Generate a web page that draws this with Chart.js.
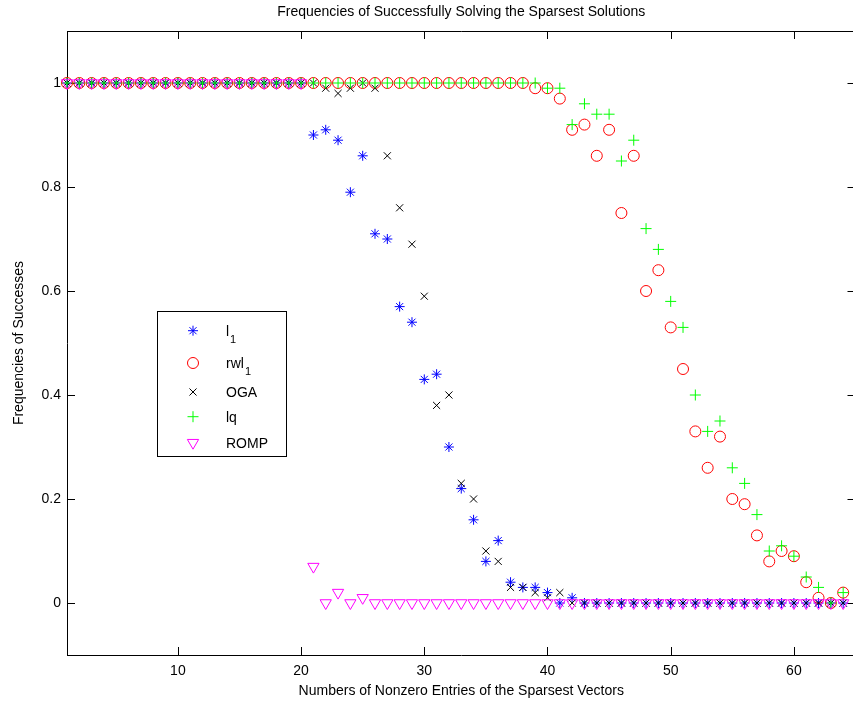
<!DOCTYPE html>
<html>
<head>
<meta charset="utf-8">
<script src="https://cdn.jsdelivr.net/npm/chart.js@4.4.1/dist/chart.umd.min.js"></script>
<style>
html, body { margin: 0; padding: 0; overflow: hidden; background: #fff; }
#wrap { width: 853px; height: 705px; overflow: hidden; position: relative; }
#chart { position: absolute; left: 0; top: 0; }
</style>
</head>
<body>
<div id="wrap"><canvas id="chart" width="863" height="705"></canvas></div>
<script>
// number of nonzero entries (x)
const entries = [1,2,3,4,5,6,7,8,9,10,11,12,13,14,15,16,17,18,19,20,
  21,22,23,24,25,26,27,28,29,30,31,32,33,34,35,36,37,38,39,40,
  41,42,43,44,45,46,47,48,49,50,51,52,53,54,55,56,57,58,59,60,61,62,63,64];
const xTicks = [10, 20, 30, 40, 50, 60];
const yTicks = [0, 0.2, 0.4, 0.6, 0.8, 1];

const seriesNames = ['l', 'rwl', 'OGA', 'lq', 'ROMP'];
const seriesSubs = ['1', '1', '', '', ''];

const l1 = [1,1,1,1,1,1,1,1,1,1,1,1,1,1,1,1,1,1,1,1,
  0.90,0.91,0.89,0.79,0.86,0.71,0.70,0.57,0.54,0.43,0.44,0.30,0.22,0.16,0.08,0.12,0.04,0.03,0.03,0.02,
  0,0.01,0,0,0,0,0,0,0,0,0,0,0,0,0,0,0,0,0,0,0,0,0,0];
const rwl1 = [1,1,1,1,1,1,1,1,1,1,1,1,1,1,1,1,1,1,1,1,
  1,1,1,1,1,1,1,1,1,1,1,1,1,1,1,1,1,1,0.99,0.99,
  0.97,0.91,0.92,0.86,0.91,0.75,0.86,0.60,0.64,0.53,0.45,0.33,0.26,0.32,0.20,0.19,0.13,0.08,0.10,0.09,
  0.04,0.01,0,0.02];
const oga = [1,1,1,1,1,1,1,1,1,1,1,1,1,1,1,1,1,1,1,1,
  1,0.99,0.98,0.99,1,0.99,0.86,0.76,0.69,0.59,0.38,0.40,0.23,0.20,0.10,0.08,0.03,0.03,0.02,0.01,
  0.02,0,0,0,0,0,0,0,0,0,0,0,0,0,0,0,0,0,0,0,0,0,0,0];
const lq = [1,1,1,1,1,1,1,1,1,1,1,1,1,1,1,1,1,1,1,1,
  1,1,1,1,1,1,1,1,1,1,1,1,1,1,1,1,1,1,1,0.99,
  0.99,0.92,0.96,0.94,0.94,0.85,0.89,0.72,0.68,0.58,0.53,0.40,0.33,0.35,0.26,0.23,0.17,0.10,0.11,0.09,
  0.05,0.03,0,0.02];
const romp = [1,1,1,1,1,1,1,1,1,1,1,1,1,1,1,1,1,1,1,1,
  0.07,0,0.02,0,0.01,0,0,0,0,0,0,0,0,0,0,0,0,0,0,0,
  0,0,0,0,0,0,0,0,0,0,0,0,0,0,0,0,0,0,0,0,0,0,0,0];

function pts(values) {
  return entries.map((x, i) => ({ x: x, y: values[i] }));
}

Chart.defaults.font.family = '"Liberation Sans", Arial, Helvetica, sans-serif';
Chart.defaults.font.size = 14;
Chart.defaults.color = '#000';

// tick marks inside the box on all four sides, plus top/right box lines
const innerTicks = {
  id: 'innerTicks',
  beforeDatasetsDraw(chart) {
    const { ctx, chartArea: a } = chart;
    const xs = chart.scales.x, ys = chart.scales.y;
    const len = 8;
    ctx.save();
    ctx.strokeStyle = '#000';
    ctx.lineWidth = 1;
    ctx.beginPath();
    xTicks.forEach(v => {
      const px = Math.round(xs.getPixelForValue(v)) + 0.5;
      ctx.moveTo(px, a.bottom); ctx.lineTo(px, a.bottom - len);
      ctx.moveTo(px, a.top); ctx.lineTo(px, a.top + len);
    });
    yTicks.forEach(v => {
      const py = Math.round(ys.getPixelForValue(v)) + 0.5;
      ctx.moveTo(a.left, py); ctx.lineTo(a.left + len, py);
      ctx.moveTo(a.right, py); ctx.lineTo(a.right - len, py);
    });
    ctx.moveTo(a.left, Math.round(a.top) + 0.5); ctx.lineTo(a.right, Math.round(a.top) + 0.5);
    ctx.moveTo(Math.round(a.right) + 0.5, a.top); ctx.lineTo(Math.round(a.right) + 0.5, a.bottom);
    ctx.stroke();
    ctx.restore();
  }
};

// center the title over the plot area like MATLAB does
const titleOverPlot = {
  id: 'titleOverPlot',
  afterLayout(chart) {
    const t = chart.titleBlock;
    if (t) {
      t.left = chart.chartArea.left;
      t.right = chart.chartArea.right;
      t.width = t.right - t.left;
    }
  }
};

// boxed legend inside the axes
const legendRowY = [330.7, 363, 392, 416.7, 442.7];
const boxLegend = {
  id: 'boxLegend',
  afterDatasetsDraw(chart) {
    const ctx = chart.ctx;
    ctx.save();
    ctx.fillStyle = '#fff';
    ctx.strokeStyle = '#000';
    ctx.lineWidth = 1;
    ctx.fillRect(157.5, 311.5, 129, 145);
    ctx.strokeRect(157.5, 311.5, 129, 145);
    chart.data.datasets.forEach((ds, i) => {
      const y = legendRowY[i];
      ctx.strokeStyle = ds.borderColor;
      ctx.fillStyle = 'rgba(0,0,0,0)';
      ctx.lineWidth = 1;
      Chart.helpers.drawPoint(ctx, {
        pointStyle: ds.pointStyle,
        radius: ds.pointRadius,
        rotation: ds.rotation || 0,
        borderWidth: 1
      }, 193, y);
      ctx.fillStyle = '#000';
      ctx.textBaseline = 'alphabetic';
      ctx.textAlign = 'left';
      ctx.font = '14px "Liberation Sans", Arial, sans-serif';
      const base = y + 5;
      ctx.fillText(seriesNames[i], 226, base);
      if (seriesSubs[i]) {
        const w = ctx.measureText(seriesNames[i]).width;
        ctx.font = '11px "Liberation Sans", Arial, sans-serif';
        ctx.fillText(seriesSubs[i], 226 + w + 1, base + 7);
      }
    });
    ctx.restore();
  }
};

new Chart(document.getElementById('chart'), {
  type: 'scatter',
  data: {
    datasets: [
      { label: 'l₁', data: pts(l1), pointStyle: 'star', pointRadius: 5,
        borderColor: '#0000ff', backgroundColor: 'rgba(0,0,0,0)', borderWidth: 1, order: 5, clip: false },
      { label: 'rwl₁', data: pts(rwl1), pointStyle: 'circle', pointRadius: 5.5,
        borderColor: '#ff0000', backgroundColor: 'rgba(0,0,0,0)', borderWidth: 1, order: 4, clip: false },
      { label: 'OGA', data: pts(oga), pointStyle: 'crossRot', pointRadius: 5,
        borderColor: '#000000', backgroundColor: 'rgba(0,0,0,0)', borderWidth: 1, order: 3, clip: false },
      { label: 'lq', data: pts(lq), pointStyle: 'cross', pointRadius: 5.5,
        borderColor: '#00ff00', backgroundColor: 'rgba(0,0,0,0)', borderWidth: 1, order: 2, clip: false },
      { label: 'ROMP', data: pts(romp), pointStyle: 'triangle', rotation: 180, pointRadius: 6.5,
        borderColor: '#ff00ff', backgroundColor: 'rgba(0,0,0,0)', borderWidth: 1, order: 1, clip: false }
    ]
  },
  options: {
    responsive: false,
    animation: false,
    layout: { padding: { left: 0, right: 3, top: 0, bottom: 0 } },
    plugins: {
      legend: { display: false },
      tooltip: { enabled: false },
      title: {
        display: true,
        text: 'Frequencies of Successfully Solving the Sparsest Solutions',
        color: '#000',
        font: { size: 14, weight: 'normal' },
        padding: { top: 4, bottom: 10.2 }
      }
    },
    scales: {
      x: {
        type: 'linear',
        min: 1,
        max: 65,
        afterBuildTicks: s => { s.ticks = xTicks.map(v => ({ value: v })); },
        afterFit: s => { s.height = 50; },
        ticks: { color: '#000', padding: 8, maxRotation: 0, autoSkip: false, callback: v => String(v) },
        grid: { display: false, drawTicks: false },
        border: { display: true, color: '#000', width: 1 },
        title: {
          display: true,
          text: 'Numbers of Nonzero Entries of the Sparsest Vectors',
          color: '#000',
          font: { size: 14 },
          padding: { top: 0, bottom: 5 }
        }
      },
      y: {
        type: 'linear',
        min: -0.1,
        max: 1.1,
        afterBuildTicks: s => { s.ticks = yTicks.map(v => ({ value: v })); },
        afterFit: s => { s.width = 67; },
        ticks: { color: '#000', padding: 6, autoSkip: false, callback: v => String(v) },
        grid: { display: false, drawTicks: false },
        border: { display: true, color: '#000', width: 1 },
        title: {
          display: true,
          text: 'Frequencies of Successes',
          color: '#000',
          font: { size: 14 },
          padding: { top: 10.6, bottom: 0 }
        }
      }
    }
  },
  plugins: [innerTicks, titleOverPlot, boxLegend]
});
</script>
</body>
</html>
